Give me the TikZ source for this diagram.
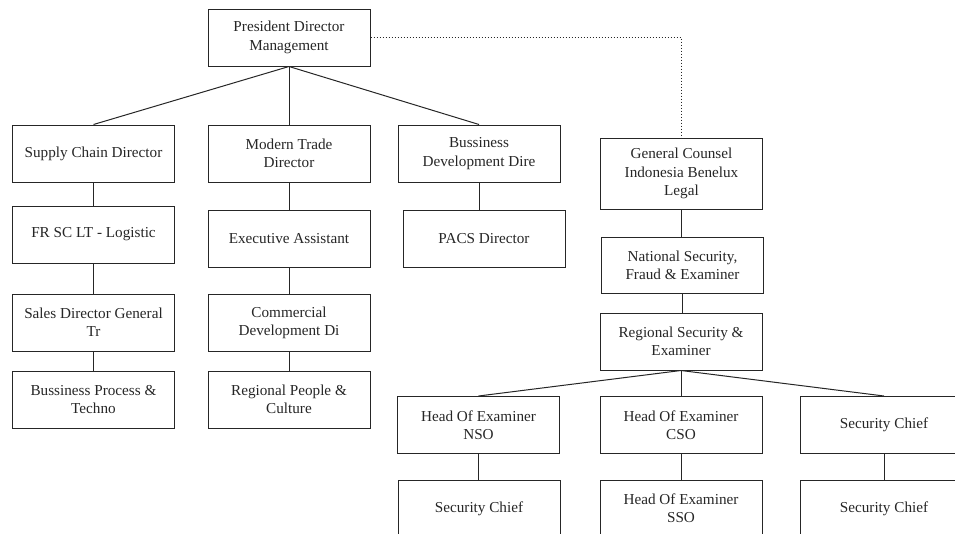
\documentclass[tikz,border=0pt]{standalone}
\usepackage{fontspec}
\setmainfont{Liberation Serif}
\begin{document}
\begin{tikzpicture}[x=1pt, y=-1pt, line width=1pt, draw=black!85,
    every node/.style={font=\fontsize{15.2}{18.3}\selectfont, align=center, text=black!85},
    box/.style={rectangle, draw=black!85, inner sep=0pt, minimum width=162pt, minimum height=57pt}]
    \useasboundingbox (0,0) rectangle (955,533);
    \clip (0,0) rectangle (955,533);

    % узлы
    \node[box] (pd) at (289,37.5) {President Director\\Management};
    \node[box] (scd) at (93.5,153.5) {Supply Chain Director};
    \node[box] (mtd) at (289,153.5) {Modern Trade\\Director};
    \node[box] (bdd) at (479,153.5) {Bussiness\\Development Dire};
    \node[box] (frl) at (93.5,234.5) {FR SC LT - Logistic};
    \node[box] (ea) at (289,238.5) {Executive Assistant};
    \node[box] (pacs) at (484,238.5) {PACS Director};
    \node[box] (sdg) at (93.5,322.5) {Sales Director General\\Tr};
    \node[box] (cdd) at (289,322.5) {Commercial\\Development Di};
    \node[box] (bpt) at (93.5,399.5) {Bussiness Process \&\\Techno};
    \node[box] (rpc) at (289,399.5) {Regional People \&\\Culture};

    \node[box, minimum height=71pt] (gc) at (681.5,173.5) {General Counsel\\Indonesia Benelux\\Legal};
    \node[box, minimum height=56pt] (nsf) at (682.5,265) {National Security,\\Fraud \& Examiner};
    \node[box] (rse) at (681,341.5) {Regional Security \&\\Examiner};
    \node[box] (hnso) at (478.5,425) {Head Of Examiner\\NSO};
    \node[box] (hcso) at (681,425) {Head Of Examiner\\CSO};
    \node[box, minimum width=168pt] (sc1) at (884,425) {Security Chief};
    \node[box] (sc2) at (479,508.5) {Security Chief};
    \node[box] (hsso) at (681,508.5) {Head Of Examiner\\SSO};
    \node[box, minimum width=168pt] (sc3) at (884,508.5) {Security Chief};

    % связи
    \draw (pd.south) -- (scd.north);
    \draw (pd.south) -- (mtd.north);
    \draw (pd.south) -- (bdd.north);
    \draw (scd) -- (frl);
    \draw (frl) -- (sdg);
    \draw (sdg) -- (bpt);
    \draw (mtd) -- (ea);
    \draw (ea) -- (cdd);
    \draw (cdd) -- (rpc);
    \draw (bdd.south) -- (bdd.south |- pacs.north);
    \draw[dotted] (pd.east) -| (gc.north);
    \draw (gc.south) -- (gc.south |- nsf.north);
    \draw (nsf.south) -- (nsf.south |- rse.north);
    \draw (rse.south) -- (hnso.north);
    \draw (rse.south) -- (hcso.north);
    \draw (rse.south) -- (sc1.north);
    \draw (hnso.south) -- (hnso.south |- sc2.north);
    \draw (hcso) -- (hsso);
    \draw (sc1) -- (sc3);
\end{tikzpicture}
\end{document}
